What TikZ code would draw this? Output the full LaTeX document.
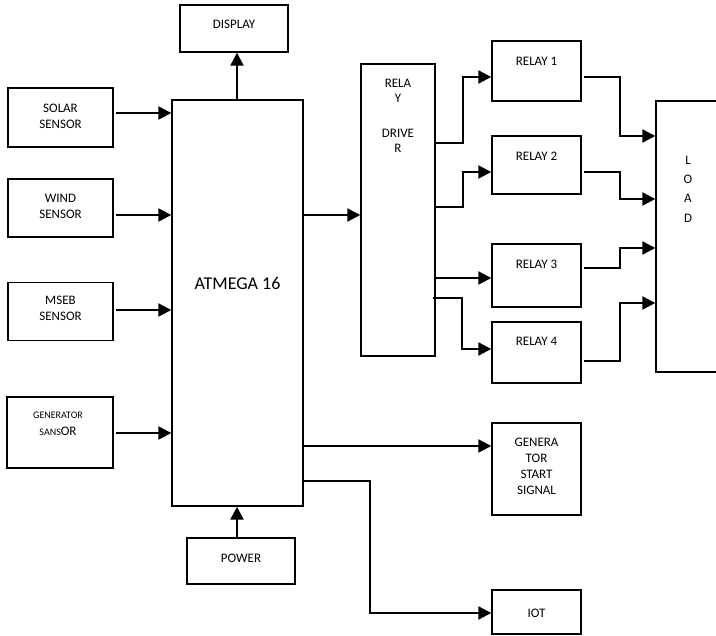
\documentclass[tikz,border=0pt]{standalone}
\usepackage{fontspec}
\setmainfont{Carlito}
\usetikzlibrary{arrows.meta,calc}
\begin{document}
\begin{tikzpicture}[x=1pt,y=-1pt,
  box/.style={draw, line width=1.4pt, inner sep=0pt},
  txt/.style={font=\fontsize{13}{16}\selectfont, align=center, inner sep=0pt},
  conn/.style={line width=2.2pt, -{Triangle[length=13pt,width=13pt]}}]
\path[use as bounding box, clip] (0,0) rectangle (716,636);
\fill[white] (0,0) rectangle (716,636);

% boxes
\node[box, minimum width=108pt, minimum height=47pt] (disp) at (234,28.5) {};
\node[box, minimum width=105pt, minimum height=59pt] (solar) at (60.5,117.5) {};
\node[box, minimum width=105pt, minimum height=58pt] (wind) at (60.5,208) {};
\node[box, minimum width=105pt, minimum height=58pt] (mseb) at (60.5,311.5) {};
\node[box, minimum width=106pt, minimum height=71pt] (gens) at (60,432.5) {};
\node[box, minimum width=131pt, minimum height=406pt] (atmega) at (237.5,303) {};
\node[box, minimum width=108pt, minimum height=46pt] (power) at (241,561) {};
\node[box, minimum width=74pt, minimum height=292pt] (driver) at (398,210) {};
\node[box, minimum width=89pt, minimum height=60pt] (r1) at (536.5,71) {};
\node[box, minimum width=89pt, minimum height=58pt] (r2) at (536.5,165) {};
\node[box, minimum width=89pt, minimum height=63pt] (r3) at (536.5,275.5) {};
\node[box, minimum width=89pt, minimum height=61pt] (r4) at (536.5,352.5) {};
\node[box, minimum width=70pt, minimum height=271pt] (load) at (691,236.5) {};
\node[box, minimum width=89pt, minimum height=92pt] (gstart) at (536.5,469) {};
\node[box, minimum width=89pt, minimum height=44pt] (iot) at (536.5,612) {};

% texts
\node[txt] (tdisp) at (234,24) {DISPLAY};
\node[txt] (tsolar) at (60.5,116) {SOLAR\\SENSOR};
\node[txt] (twind) at (60.5,206) {WIND\\SENSOR};
\node[txt] (tmseb) at (60.5,308.5) {MSEB\\SENSOR};
\node[txt, font=\fontsize{13}{17}\selectfont] (tgens) at (58,424) {{\fontsize{10}{12}\selectfont GENERATOR}\\{\fontsize{10}{12}\selectfont SANS}OR};
\node[txt, font=\fontsize{18}{22}\selectfont] (tatmega) at (237.5,283) {ATMEGA 16};
\node[txt] (tpower) at (241,558) {POWER};
\node[txt, font=\fontsize{13}{15}\selectfont] (tdriver) at (398,116) {RELA\\Y\\[20pt]DRIVE\\R};
\node[txt] (tr1) at (536.5,61) {RELAY 1};
\node[txt] (tr2) at (536.5,156) {RELAY 2};
\node[txt] (tr3) at (536.5,264) {RELAY 3};
\node[txt] (tr4) at (536.5,341) {RELAY 4};
\node[txt, font=\fontsize{13}{19.3}\selectfont] (tload) at (688,189) {L\\O\\A\\D};
\node[txt] (tgstart) at (536.5,466) {GENERA\\TOR\\START\\SIGNAL};
\node[txt] (tiot) at (536.5,613) {IOT};

% connectors
\draw[conn] (atmega.north -| 237,0) -- (disp.south -| 237,0);
\draw[conn] (power.north -| 237,0) -- (atmega.south -| 237,0);
\draw[conn] ($(solar.east |- 0,113)+(2,0)$) -- (atmega.west |- 0,113);
\draw[conn] ($(wind.east |- 0,215)+(2,0)$) -- (atmega.west |- 0,215);
\draw[conn] ($(mseb.east |- 0,310)+(2,0)$) -- (atmega.west |- 0,310);
\draw[conn] ($(gens.east |- 0,433)+(2,0)$) -- (atmega.west |- 0,433);
\draw[conn] (atmega.east |- 0,215) -- (driver.west |- 0,215);

\draw[conn] (driver.east |- 0,143) -- (463,143) |- (r1.west |- 0,77);
\draw[conn] (driver.east |- 0,207) -- (463,207) |- (r2.west |- 0,172);
\draw[conn] (driver.east |- 0,278) -- (r3.west |- 0,278);
\draw[conn] ($(driver.east |- 0,298)+(-3,0)$) -- (462,298) |- (r4.west |- 0,349);

\draw[conn] ($(r1.east |- 0,77)+(2,0)$) -- (620,77) |- (load.west |- 0,136);
\draw[conn] ($(r2.east |- 0,172)+(2,0)$) -- (620,172) |- (load.west |- 0,199);
\draw[conn] ($(r3.east |- 0,268)+(2,0)$) -- (620,268) |- (load.west |- 0,248);
\draw[conn] ($(r4.east |- 0,361)+(2,0)$) -- (620,361) |- (load.west |- 0,303);

\draw[conn] (atmega.east |- 0,446) -- (gstart.west |- 0,446);
\draw[conn] (atmega.east |- 0,481) -- (370,481) |- (iot.west |- 0,613);
\end{tikzpicture}
\end{document}
